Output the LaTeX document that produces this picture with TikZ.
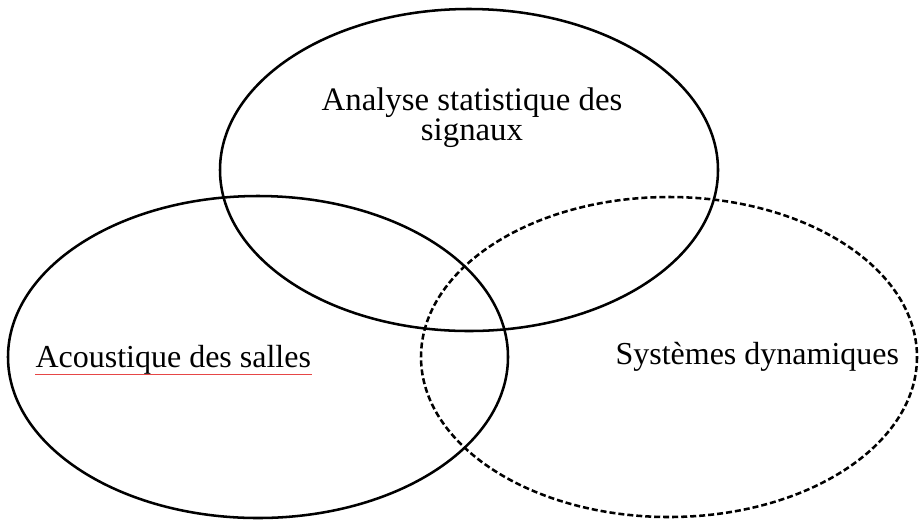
\documentclass[tikz,border=0pt]{standalone}
\usepackage{fontspec}
\setmainfont{Liberation Serif}

\tikzset{every picture/.style={line width=0.75pt}}
\tikzset{
	venn/.style={line width=1.9pt},
	venndash/.style={venn, dash pattern=on 4.5pt off 2.25pt},
	vennlabel/.style={inner sep=0pt, font=\fontsize{24}{21}\selectfont}
}

\begin{document}
\begin{tikzpicture}[x=0.75pt,y=0.75pt,yscale=-1,xscale=1]
			\useasboundingbox (0,0) rectangle (919,519);
			%Shape: Ellipse [signaux]
			\draw [venn]   (469,170) ellipse (249 and 161) ;
			%Shape: Ellipse [salles]
			\draw [venn]   (258,357) ellipse (250 and 161) ;
			%Shape: Ellipse [dynamiques]
			\draw [venndash]   (669,357) ellipse (248 and 160) ;

			% Text Node
			\node [vennlabel, align=center, font=\fontsize{24.6}{21.5}\selectfont] (signaux) at (472,118) {Analyse statistique des\\signaux};
			% Text Node
			\node [vennlabel, anchor=base west] (salles) at (35,367) {Acoustique des salles};
			% Text Node
			\node [vennlabel, anchor=base west] (dyn) at (615,364) {Systèmes dynamiques};

			%Straight Lines [underline]
			\draw [color={rgb, 255:red, 230; green, 70; blue, 70 }]  ([yshift=5.25pt]salles.base west) -- ([yshift=5.25pt]salles.base east) ;

		\end{tikzpicture}
\end{document}
